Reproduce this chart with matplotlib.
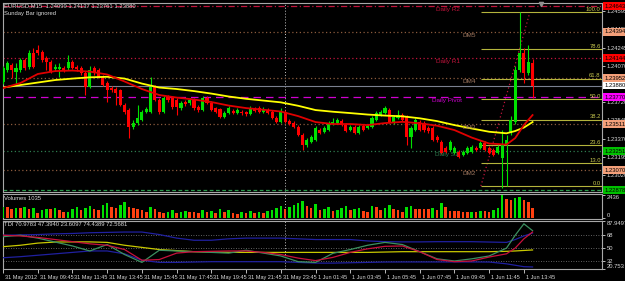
import numpy as np
import matplotlib.pyplot as plt
from matplotlib.transforms import ScaledTranslation

plt.rcParams['font.family'] = ['Liberation Sans Narrow', 'Liberation Sans', 'DejaVu Sans']

# ---- EURUSD M15 bars (31 May 07:45 .. 1 Jun 14:15) ----
opens = [1.23914, 1.24029, 1.24077, 1.24010, 1.24029, 1.24125, 1.24058, 1.24192, 1.24221, 1.24202,
         1.24144, 1.24106, 1.24039, 1.24039, 1.24048, 1.24048, 1.24106, 1.24058, 1.24048, 1.24000,
         1.23866, 1.24048, 1.24029, 1.23962, 1.23904, 1.23856, 1.23847, 1.23837, 1.23693, 1.23645,
         1.23482, 1.23520, 1.23549, 1.23626, 1.23626, 1.23866, 1.23741, 1.23626, 1.23770, 1.23760,
         1.23741, 1.23664, 1.23722, 1.23712, 1.23741, 1.23674, 1.23645, 1.23760, 1.23712, 1.23664,
         1.23655, 1.23578, 1.23616, 1.23635, 1.23616, 1.23626, 1.23626, 1.23607, 1.23655, 1.23664,
         1.23626, 1.23645, 1.23626, 1.23568, 1.23530, 1.23626, 1.23539, 1.23520, 1.23482, 1.23405,
         1.23309, 1.23338, 1.23357, 1.23453, 1.23434, 1.23453, 1.23511, 1.23520, 1.23539, 1.23501,
         1.23453, 1.23482, 1.23424, 1.23491, 1.23472, 1.23482, 1.23549, 1.23597, 1.23616, 1.23645,
         1.23520, 1.23568, 1.23597, 1.23578, 1.23386, 1.23453, 1.23530, 1.23520, 1.23472, 1.23472,
         1.23386, 1.23338, 1.23280, 1.23261, 1.23232, 1.23242, 1.23213, 1.23232, 1.23242, 1.23280,
         1.23280, 1.23328, 1.23280, 1.23261, 1.23232, 1.23184, 1.23309, 1.23424, 1.23530, 1.24029,
         1.24192, 1.24000, 1.24099]
highs = [1.24067, 1.24115, 1.24096, 1.24096, 1.24144, 1.24144, 1.24221, 1.24240, 1.24269, 1.24221,
         1.24163, 1.24125, 1.24087, 1.24096, 1.24067, 1.24173, 1.24125, 1.24077, 1.24067, 1.24019,
         1.24067, 1.24067, 1.24048, 1.23981, 1.23923, 1.23875, 1.23866, 1.23847, 1.23712, 1.23664,
         1.23549, 1.23693, 1.23645, 1.23674, 1.23962, 1.23885, 1.23760, 1.23779, 1.23789, 1.23779,
         1.23760, 1.23731, 1.23741, 1.23760, 1.23760, 1.23693, 1.23779, 1.23779, 1.23731, 1.23674,
         1.23664, 1.23635, 1.23683, 1.23655, 1.23664, 1.23645, 1.23635, 1.23683, 1.23674, 1.23683,
         1.23674, 1.23664, 1.23645, 1.23587, 1.23664, 1.23645, 1.23559, 1.23539, 1.23501, 1.23424,
         1.23376, 1.23405, 1.23491, 1.23472, 1.23491, 1.23539, 1.23568, 1.23568, 1.23559, 1.23520,
         1.23501, 1.23501, 1.23501, 1.23511, 1.23511, 1.23587, 1.23635, 1.23645, 1.23683, 1.23664,
         1.23597, 1.23645, 1.23616, 1.23597, 1.23491, 1.23568, 1.23549, 1.23539, 1.23491, 1.23491,
         1.23405, 1.23357, 1.23299, 1.23357, 1.23299, 1.23261, 1.23261, 1.23299, 1.23309, 1.23299,
         1.23347, 1.23347, 1.23299, 1.23280, 1.23309, 1.23453, 1.23405, 1.23587, 1.24067, 1.24585,
         1.24240, 1.24269, 1.24137]
lows = [1.23895, 1.24010, 1.23952, 1.23895, 1.24010, 1.24029, 1.24039, 1.24048, 1.24173, 1.24106,
        1.24029, 1.24000, 1.24019, 1.23962, 1.24010, 1.24029, 1.24039, 1.24019, 1.23981, 1.23789,
        1.23856, 1.23981, 1.23952, 1.23875, 1.23722, 1.23818, 1.23693, 1.23683, 1.23607, 1.23376,
        1.23463, 1.23501, 1.23539, 1.23616, 1.23616, 1.23731, 1.23607, 1.23616, 1.23722, 1.23655,
        1.23597, 1.23645, 1.23683, 1.23693, 1.23645, 1.23626, 1.23635, 1.23703, 1.23635, 1.23616,
        1.23568, 1.23568, 1.23607, 1.23607, 1.23607, 1.23597, 1.23587, 1.23597, 1.23626, 1.23616,
        1.23616, 1.23607, 1.23559, 1.23520, 1.23520, 1.23520, 1.23501, 1.23472, 1.23395, 1.23261,
        1.23290, 1.23328, 1.23347, 1.23415, 1.23424, 1.23443, 1.23501, 1.23511, 1.23491, 1.23434,
        1.23443, 1.23415, 1.23415, 1.23443, 1.23463, 1.23472, 1.23539, 1.23587, 1.23607, 1.23520,
        1.23511, 1.23559, 1.23539, 1.23309, 1.23280, 1.23443, 1.23443, 1.23434, 1.23424, 1.23347,
        1.23338, 1.23223, 1.23232, 1.23251, 1.23223, 1.23184, 1.23203, 1.23223, 1.23232, 1.23251,
        1.23271, 1.23251, 1.23223, 1.23203, 1.23223, 1.22897, 1.22916, 1.23405, 1.23511, 1.24010,
        1.23904, 1.23981, 1.23761]
closes = [1.24048, 1.24096, 1.24029, 1.24048, 1.24125, 1.24048, 1.24192, 1.24058, 1.24192, 1.24125,
          1.24106, 1.24010, 1.24058, 1.24058, 1.24029, 1.24106, 1.24048, 1.24039, 1.24000, 1.23866,
          1.24029, 1.24000, 1.23962, 1.23885, 1.23837, 1.23837, 1.23808, 1.23693, 1.23626, 1.23482,
          1.23520, 1.23568, 1.23626, 1.23655, 1.23866, 1.23741, 1.23626, 1.23760, 1.23741, 1.23674,
          1.23674, 1.23712, 1.23703, 1.23741, 1.23664, 1.23645, 1.23760, 1.23712, 1.23645, 1.23626,
          1.23578, 1.23616, 1.23664, 1.23616, 1.23645, 1.23616, 1.23607, 1.23664, 1.23635, 1.23626,
          1.23655, 1.23616, 1.23568, 1.23530, 1.23626, 1.23530, 1.23511, 1.23482, 1.23405, 1.23309,
          1.23357, 1.23386, 1.23472, 1.23424, 1.23472, 1.23520, 1.23530, 1.23549, 1.23501, 1.23443,
          1.23482, 1.23424, 1.23482, 1.23453, 1.23491, 1.23568, 1.23616, 1.23626, 1.23664, 1.23530,
          1.23578, 1.23597, 1.23549, 1.23386, 1.23472, 1.23549, 1.23453, 1.23453, 1.23443, 1.23357,
          1.23357, 1.23232, 1.23242, 1.23338, 1.23280, 1.23194, 1.23242, 1.23280, 1.23290, 1.23261,
          1.23328, 1.23261, 1.23232, 1.23213, 1.23290, 1.23309, 1.23357, 1.23549, 1.24029, 1.24192,
          1.24000, 1.24106, 1.23880]
volumes = [1218, 1218, 974, 1114, 1044, 1218, 974, 1114, 522, 870,
           974, 974, 1114, 870, 626, 696, 974, 1218, 870, 1114,
           1322, 974, 870, 1392, 1566, 1218, 1114, 1392, 1740, 1218,
           1044, 974, 870, 696, 1218, 974, 696, 522, 696, 870,
           522, 696, 766, 696, 626, 522, 900, 700, 800, 600,
           1000, 700, 900, 600, 500, 650, 550, 800, 600, 700,
           550, 750, 900, 1100, 1300, 1000, 1200, 1400, 1600, 1800,
           1300, 1100, 1500, 900, 1000, 1200, 800, 900, 1100, 1300,
           900, 1000, 1100, 800, 700, 1300, 1200, 900, 1100, 1400,
           1000, 900, 696, 1218, 1322, 974, 974, 974, 974, 1114,
           870, 1566, 1218, 766, 766, 766, 696, 626, 696, 696,
           766, 766, 696, 870, 1044, 2436, 2018, 1914, 2158, 2262,
           1914, 1740, 1035]

# ---- indicator lines at every 4th bar ----
sample_bars = [0, 4, 8, 12, 16, 20, 24, 28, 32, 36, 40, 44, 48, 52, 56, 60, 64, 68, 72, 76,
               80, 84, 88, 92, 96, 100, 104, 108, 112, 116, 118, 120, 122]
ma_red = [1.23856, 1.23904, 1.23991, 1.24019, 1.24024, 1.24014, 1.23986, 1.23919, 1.23847, 1.23789,
          1.23765, 1.23746, 1.23722, 1.23688, 1.23664, 1.23648, 1.23631, 1.23587, 1.23530, 1.23511,
          1.23511, 1.23501, 1.23520, 1.23532, 1.23518, 1.23495, 1.23453, 1.23381, 1.23324, 1.23314,
          1.23376, 1.23501, 1.23597]
ma_yellow = [1.23861, 1.23885, 1.23909, 1.23933, 1.23947, 1.23959, 1.23964, 1.23947, 1.23899, 1.23861,
             1.23847, 1.23827, 1.23803, 1.23775, 1.23753, 1.23736, 1.23719, 1.23686, 1.23645, 1.23629,
             1.23616, 1.23602, 1.23592, 1.23585, 1.23566, 1.23539, 1.23501, 1.23468, 1.23437, 1.23422,
             1.23444, 1.23477, 1.23530]
tdi_rsi = [66, 68, 64, 58.5, 53, 46, 55, 41, 30, 47, 46, 45, 44, 43, 47, 43, 39, 31, 30, 42.7,
           48, 54, 58, 55, 45, 35, 32, 35, 39, 50, 68, 84, 74.44]
tdi_signal = [68, 67, 65, 62, 59, 56, 54, 48, 33, 34, 43, 45, 45.5, 46, 46, 44, 41, 36, 32.5, 37,
              44, 49, 52.5, 53, 45, 34, 31, 32, 37.5, 42, 50, 63, 72.57]
tdi_base = [52, 54, 57, 58.5, 58.7, 58.7, 58, 54, 51, 48, 46.5, 45, 44.5, 44, 44, 44, 44, 44, 44, 44,
            44, 44, 44.5, 45, 45, 45, 45, 45, 45, 45.5, 46, 46.7, 47.39]
tdi_upper = [68, 68.5, 69, 70, 70.5, 71.5, 72, 72.5, 72.5, 69, 64, 61, 61, 63, 64, 64, 64, 63, 62, 62,
             62, 60, 59, 58.7, 58.7, 59, 59, 59, 58.5, 58, 62, 67, 70.98]
tdi_lower = [36.5, 38, 40, 42, 44, 46, 46, 42, 33, 30, 30, 30.5, 31, 31, 31, 31, 31, 30, 29, 29,
             29.5, 30, 30.5, 30.6, 30.6, 30.6, 30.6, 30.6, 30.5, 28, 26, 24, 23.61]

# ---- levels ----
price_ticks = [1.24595, 1.24420, 1.24245, 1.24070, 1.23895, 1.23720, 1.23545, 1.23370, 1.23195, 1.23020]
pivot_names = ['Daily R2', 'Daily R1', 'Daily Pivot', 'Daily S1', 'Daily S2']
pivot_prices = [1.24643, 1.24144, 1.23770, 1.23251, 1.22878]
dm_names = ['DM5', 'DM4', 'DM3', 'DM2']
dm_prices = [1.24394, 1.23952, 1.23511, 1.23070]
fib_low, fib_high = 1.22916, 1.24585
fib_levels = [0.0, 13.0, 23.6, 38.2, 50.0, 61.8, 78.6, 100.0]
last_price = 1.23880

time_labels = ['31 May 2012', '31 May 09:45', '31 May 11:45', '31 May 13:45', '31 May 15:45',
               '31 May 17:45', '31 May 19:45', '31 May 21:45', '31 May 23:45', '1 Jun 01:45',
               '1 Jun 03:45', '1 Jun 05:45', '1 Jun 07:45', '1 Jun 09:45', '1 Jun 11:45', '1 Jun 13:45']
label_bars = [0, 8, 16, 24, 32, 40, 48, 56, 64, 72, 80, 88, 96, 104, 112, 120]

W, H = 625, 281
GREEN, RED = '#00e000', '#ff0000'
FG = '#d8d8d8'
FS = 4.2

fig = plt.figure(figsize=(W / 100, H / 100), dpi=100, facecolor='black')


def panel(top, bottom):
    ax = fig.add_axes([2.5 / W, 1 - bottom / H, (602 - 2.5) / W, (bottom - top) / H])
    ax.set_facecolor('black')
    for s in ax.spines.values():
        s.set_color('#a8a8a8')
        s.set_linewidth(0.8)
    ax.set_xlim(-0.12, 138.0)
    ax.tick_params(left=False, labelleft=False, bottom=False, labelbottom=False,
                   right=True, labelright=True, direction='out', length=2.5, width=0.6,
                   color=FG, labelcolor=FG, labelsize=FS, pad=1)
    ax.axvline(65, color='#c8c8c8', ls=(0, (1, 2)), lw=0.7, zorder=1)
    return ax


def ftext(x, y, s, **kw):
    fig.text(x / W, 1 - y / H, s, fontsize=FS, color=FG, va='center', **kw)


main = panel(3, 192)
vol = panel(194, 219)
tdi = panel(221, 269)

# ---------- main price panel ----------
main.set_ylim(1.22859, 1.24672)
main.set_yticks(price_ticks)
main.set_yticklabels([f'{p:.5f}' for p in price_ticks])

bars = np.arange(len(closes))
o, h, l, c = map(np.array, (opens, highs, lows, closes))
up = c >= o
cols = np.where(up, GREEN, RED)
main.vlines(bars, l, h, colors=cols, lw=0.8, zorder=4)
main.bar(bars, np.maximum(np.abs(c - o), 0.00003), bottom=np.minimum(o, c), width=0.72,
         color=cols, linewidth=0, zorder=5)

main.plot(sample_bars, ma_yellow, color='#ffff00', lw=1.3, zorder=6)
main.plot(sample_bars, ma_red, color='#e00000', lw=1.3, zorder=6)

# pivot / DM levels
pivot_styles = [('#c0143c', (0, (5, 2, 1, 2))), ('#c0143c', (0, (1, 2))), ('#d000d0', (0, (6, 4))),
                ('#2e7d4f', (0, (1, 2))), ('#2e9d4f', (0, (3, 2)))]
pivot_label_x = [99.8, 99.8, 98.8, 99.6, None]
for name, p, (col, ls), lx in zip(pivot_names, pivot_prices, pivot_styles, pivot_label_x):
    main.axhline(p, color=col, ls=ls, lw=0.9, zorder=2)
    if lx is not None:
        main.text(lx, p - 0.00012, name, color=col, fontsize=FS + 0.4, va='top', zorder=7)
for name, p in zip(dm_names, dm_prices):
    main.axhline(p, color='#8b5a3c', ls=(0, (1, 2)), lw=0.9, zorder=2)
    main.text(105.8, p - 0.00012, name, color='#a07860', fontsize=FS + 0.4, va='top', zorder=7)
main.axhline(last_price, color='#7a8090', lw=0.8, zorder=2)

# fibonacci
fib_start, fib_end = 110.1, 121.4
main.plot([fib_start, fib_end], [fib_low, fib_high], color='#c0143c', ls=(0, (1, 2)), lw=0.9, zorder=3)
for lv in fib_levels:
    p = fib_low + (fib_high - fib_low) * lv / 100
    main.hlines(p, fib_start, 138.0, color='#b4b43c', lw=0.8, zorder=3)
    main.text(137.7, p + 0.00002, f'{lv:.1f}', color='#c8c850', fontsize=FS, ha='right', va='bottom', zorder=7)

# coloured price tags on the right
ytr = main.get_yaxis_transform()
tags = [(pivot_prices[0], '#ff0000'), (dm_prices[0], '#f4a07a'), (pivot_prices[1], '#ff0000'),
        (dm_prices[1], '#f4a07a'), (last_price, '#ffffff'), (pivot_prices[2], '#ff00ff'),
        (dm_prices[2], '#f4a07a'), (pivot_prices[3], '#00c000'), (dm_prices[3], '#f4a07a'),
        (pivot_prices[4], '#00c000')]
for p, col in tags:
    main.text(1.004, p, f'{p:.5f}', transform=ytr, color='black', fontsize=FS, ha='left', va='center',
              clip_on=False, zorder=10,
              bbox=dict(boxstyle='square,pad=0.2', fc=col, ec='none'))
main.plot(124.0, 1.24662, marker='v', color='#909090', ms=3, clip_on=False, zorder=8)

ftext(4, 6, 'EURUSD,M15  1.24099 1.24137 1.23761 1.23880')
ftext(4, 13, 'Sunday Bar ignored')

# ---------- volumes ----------
v = np.array(volumes)
vcols = [GREEN] + [GREEN if v[i] > v[i - 1] else '#ff4010' for i in range(1, len(v))]
vol.bar(bars, v, width=0.6, color=vcols, linewidth=0, zorder=3)
vol.set_ylim(-73, 2540)
vol.set_yticks([0, 2436])
vol.set_yticklabels(['0', '2436'])
vlabels = vol.get_yticklabels()
vlabels[0].set_va('bottom')
vlabels[1].set_va('top')
ftext(4, 199, f'Volumes {volumes[-1]}')

# ---------- TDI ----------
tdi.set_ylim(20.753, 87.9497)
for lvl in (68, 50, 32):
    tdi.axhline(lvl, color='#808080', ls=(0, (1, 2)), lw=0.6, zorder=1)
tdi.plot(sample_bars, tdi_upper, color='#2020a0', lw=0.9, zorder=3)
tdi.plot(sample_bars, tdi_lower, color='#2020a0', lw=0.9, zorder=3)
tdi.plot(sample_bars, tdi_base, color='#c8c800', lw=0.9, zorder=4)
tdi.plot(sample_bars, tdi_rsi, color='#3c9060', lw=0.9, zorder=5)
tdi.plot(sample_bars, tdi_signal, color='#c8103c', lw=0.9, zorder=6)
tdi.set_yticks([87.9497, 68, 50, 32, 20.753])
tdi.set_yticklabels(['87.9497', '68', '50', '32', '20.753'])
tlabels = tdi.get_yticklabels()
tlabels[0].set_va('top')
tlabels[-1].set_va('bottom')
ftext(4, 225, 'TDI 70.9783 47.3940 23.6097 74.4389 72.5681')

tdi.set_xticks(label_bars)
tdi.set_xticklabels(time_labels)
tdi.tick_params(axis='x', bottom=True, labelbottom=True, length=3, width=0.6, color=FG,
                labelcolor=FG, labelsize=FS - 0.2, pad=1)
off = ScaledTranslation(2 / 100, 0, fig.dpi_scale_trans)
for lbl in tdi.get_xticklabels():
    lbl.set_ha('left')
    lbl.set_transform(lbl.get_transform() + off)

fig.savefig('out.png', dpi=100, facecolor='black')
